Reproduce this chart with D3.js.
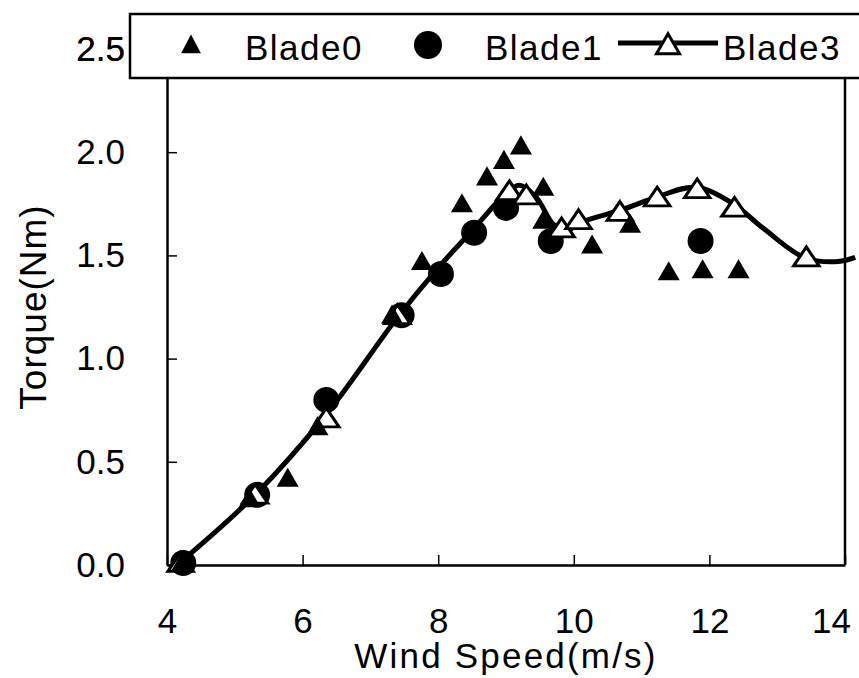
<!DOCTYPE html>
<html>
<head>
<meta charset="utf-8">
<script src="https://cdn.jsdelivr.net/npm/d3@7"></script>
<style>
  body { margin: 0; background: #fff; }
  text { font-family: "Liberation Sans", Arial, sans-serif; fill: #000; }
</style>
</head>
<body>
<div id="chart"></div>
<script>
// data
var blade0X = [4.22, 5.22, 5.78, 6.22, 7.32, 7.76, 8.35, 8.72, 8.97, 9.22, 9.55, 9.55, 10.27, 10.83, 11.4, 11.9, 12.43];
var blade0Y = [0.0, 0.31, 0.41, 0.66, 1.20, 1.46, 1.74, 1.87, 1.95, 2.02, 1.82, 1.66, 1.54, 1.64, 1.41, 1.42, 1.42];

var blade1X = [4.24, 5.33, 6.35, 7.46, 8.04, 8.53, 9.0, 9.66, 11.87];
var blade1Y = [0.01, 0.34, 0.80, 1.21, 1.41, 1.61, 1.73, 1.57, 1.57];

var blade3X = [4.2, 5.3, 6.35, 7.4, 9.05, 9.3, 9.82, 10.07, 10.68, 11.23, 11.82, 12.37, 13.43];
var blade3Y = [0.0, 0.33, 0.70, 1.2, 1.80, 1.78, 1.62, 1.66, 1.70, 1.77, 1.81, 1.72, 1.48];

// fitted curve drawn through blade3
var curveX = [4.15, 5.3, 6.35, 7.4, 8.0, 8.5, 9.0, 9.2, 9.45, 9.7, 9.9, 10.1, 10.7, 11.2, 11.8, 12.35, 12.8, 13.4, 13.9, 14.15];
var curveY = [0.0, 0.34, 0.73, 1.2, 1.44, 1.62, 1.80, 1.84, 1.78, 1.65, 1.62, 1.66, 1.72, 1.78, 1.83, 1.75, 1.63, 1.49, 1.47, 1.49];

var xTicks = [4, 6, 8, 10, 12, 14];
var yTicks = [0, 0.5, 1.0, 1.5, 2.0, 2.5];
var legendNames = ["Blade0", "Blade1", "Blade3"];

var W = 859, H = 678;
var margin = {top: 49, right: 14, bottom: 113, left: 167},
    width = W - margin.left - margin.right,
    height = H - margin.top - margin.bottom;

var svg = d3.select("#chart").append("svg")
    .attr("width", W)
    .attr("height", H);

var g = svg.append("g")
    .attr("transform", "translate(" + margin.left + "," + margin.top + ")");

var x = d3.scaleLinear().domain([4, 14]).range([0, width]);
var y = d3.scaleLinear().domain([0, 2.5]).range([height, 0]);

// axes, ticks pointing inward
var xAxis = g.append("g")
    .attr("transform", "translate(0," + height + ")")
    .call(d3.axisBottom(x).tickValues(xTicks).tickSizeInner(-10).tickSizeOuter(0).tickPadding(43).tickFormat(d3.format("d")));

var yAxis = g.append("g")
    .call(d3.axisLeft(y).tickValues(yTicks).tickSizeInner(-10).tickSizeOuter(0).tickPadding(42).tickFormat(d3.format(".1f")));

[xAxis, yAxis].forEach(function(a) {
  a.select(".domain").attr("stroke", "#000").attr("stroke-width", 2.5);
  a.selectAll(".tick line").attr("stroke", "#000").attr("stroke-width", 1.5);
  a.selectAll(".tick text")
    .style("font-size", "35px")
    .style("font-family", "Liberation Sans, Arial, sans-serif")
    .attr("fill", "#000");
});
// last label pulled in so it stays on the page
xAxis.selectAll(".tick text").filter(function(d) { return d === 14; }).attr("dx", -14);

// right border
g.append("line")
    .attr("x1", width).attr("x2", width)
    .attr("y1", 0).attr("y2", height)
    .attr("stroke", "#000").attr("stroke-width", 2.5);
g.append("line")
    .attr("x1", 0).attr("x2", width)
    .attr("y1", 0).attr("y2", 0)
    .attr("stroke", "#000").attr("stroke-width", 2.5);

// axis titles
g.append("text")
    .attr("x", width / 2)
    .attr("y", height + 103)
    .style("text-anchor", "middle")
    .style("font-size", "35px")
    .style("letter-spacing", "2.2px")
    .text("Wind Speed(m/s)");

g.append("text")
    .attr("transform", "rotate(-90)")
    .attr("x", -height / 2)
    .attr("y", -121)
    .style("text-anchor", "middle")
    .style("font-size", "37px")
    .style("letter-spacing", "1px")
    .text("Torque(Nm)");

// blade3 fitted line
var curvePts = curveX.map(function(d, i) { return [d, curveY[i]]; });
var line = d3.line()
    .x(function(d) { return x(d[0]); })
    .y(function(d) { return y(d[1]); })
    .curve(d3.curveCatmullRom.alpha(0.5));

g.append("path")
    .datum(curvePts)
    .attr("d", line)
    .attr("fill", "none")
    .attr("stroke", "#000")
    .attr("stroke-width", 5);

var tri = d3.symbol().type(d3.symbolTriangle);

// blade1 circles
g.selectAll(".b1")
  .data(blade1X.map(function(d, i) { return [d, blade1Y[i]]; }))
  .enter().append("circle")
    .attr("cx", function(d) { return x(d[0]); })
    .attr("cy", function(d) { return y(d[1]); })
    .attr("r", 13)
    .attr("fill", "#000");

// blade3 open triangles, a bit flatter than equilateral
g.selectAll(".b3")
  .data(blade3X.map(function(d, i) { return [d, blade3Y[i]]; }))
  .enter().append("path")
    .attr("d", tri.size(240)())
    .attr("transform", function(d) { return "translate(" + x(d[0]) + "," + y(d[1]) + ") scale(1.08,0.92)"; })
    .attr("fill", "#fff")
    .attr("stroke", "#000")
    .attr("stroke-width", 3);

// blade0 filled triangles
g.selectAll(".b0")
  .data(blade0X.map(function(d, i) { return [d, blade0Y[i]]; }))
  .enter().append("path")
    .attr("d", tri.size(210)())
    .attr("transform", function(d) { return "translate(" + x(d[0]) + "," + y(d[1]) + ")"; })
    .attr("fill", "#000");

// legend box over the top of the frame
var leg = svg.append("g");
leg.append("rect")
    .attr("x", 130).attr("y", 14)
    .attr("width", 760).attr("height", 64)
    .attr("fill", "#fff")
    .attr("stroke", "#000")
    .attr("stroke-width", 2.5);

leg.append("path")
    .attr("d", tri.size(170)())
    .attr("transform", "translate(191,47) scale(1,1.1)")
    .attr("fill", "#000");
leg.append("circle")
    .attr("cx", 428).attr("cy", 45).attr("r", 14)
    .attr("fill", "#000");
leg.append("line")
    .attr("x1", 618).attr("x2", 718)
    .attr("y1", 43).attr("y2", 43)
    .attr("stroke", "#000").attr("stroke-width", 5);
leg.append("path")
    .attr("d", tri.size(230)())
    .attr("transform", "translate(668,47)")
    .attr("fill", "#fff")
    .attr("stroke", "#000")
    .attr("stroke-width", 3);

var legX = [245, 485, 723];
leg.selectAll(".lt")
  .data(legendNames)
  .enter().append("text")
    .attr("x", function(d, i) { return legX[i]; })
    .attr("y", 60)
    .style("font-size", "35px")
    .style("letter-spacing", "1.5px")
    .text(function(d) { return d; });

// the 2.5 label sits left of the legend box
svg.append("text")
    .attr("x", 125).attr("y", 49)
    .attr("dy", "0.35em")
    .style("text-anchor", "end")
    .style("font-size", "35px")
    .text("2.5");
</script>
</body>
</html>
